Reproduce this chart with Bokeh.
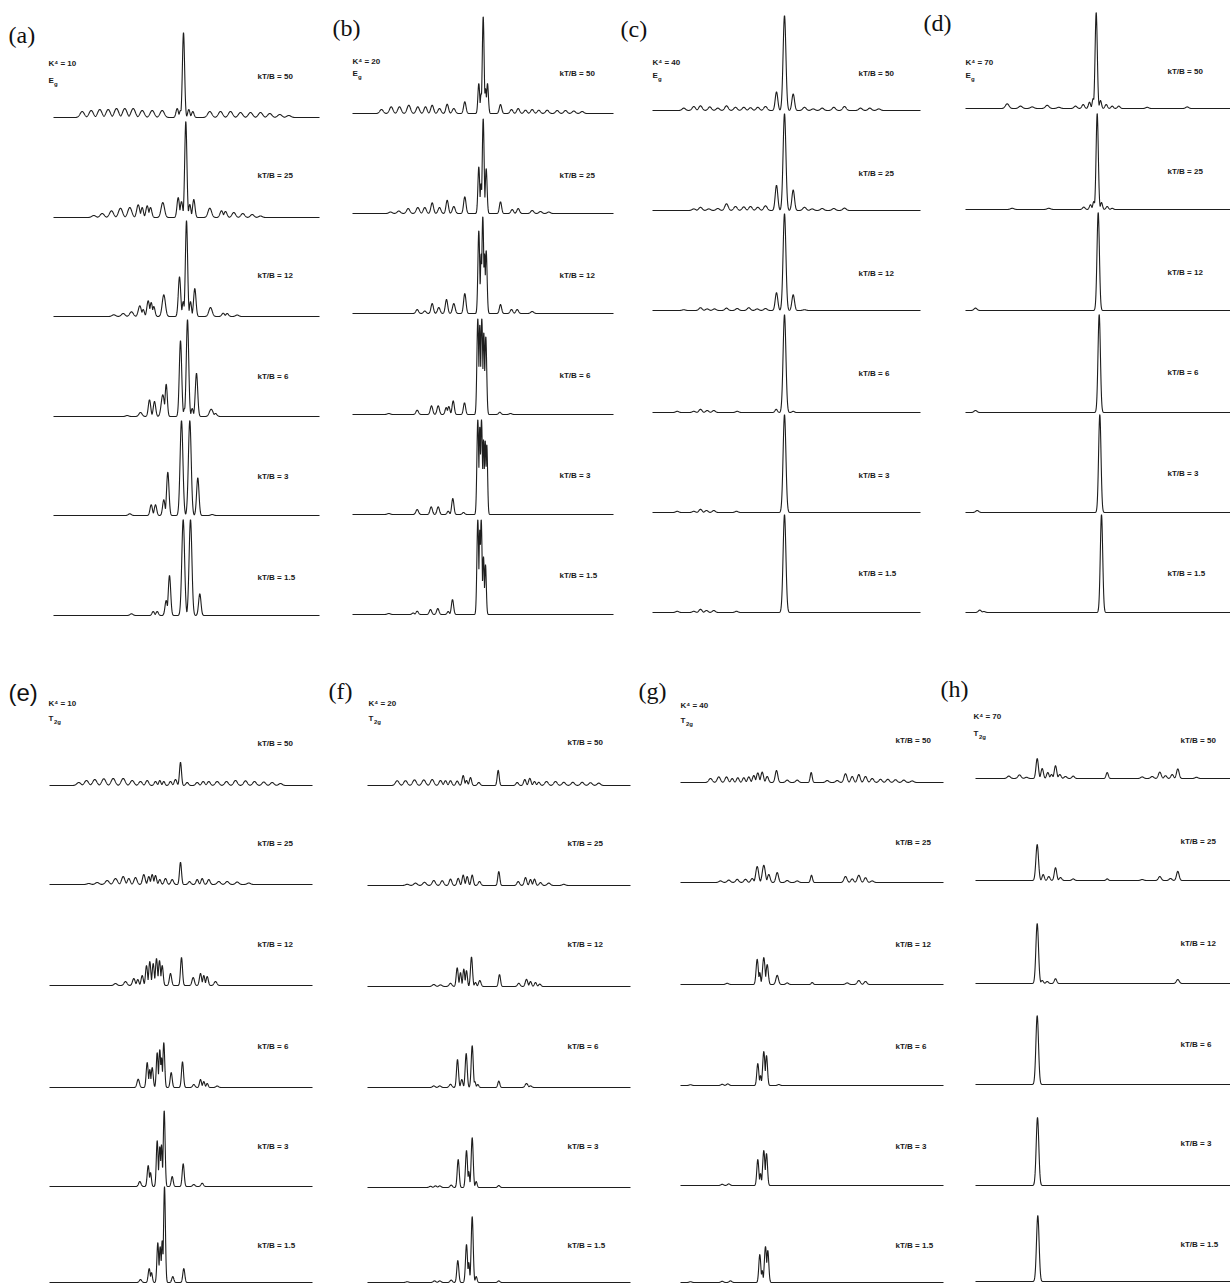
import numpy as np
from bokeh.plotting import figure
from bokeh.models import Range1d, Label
from bokeh.embed import file_html
from bokeh.resources import INLINE

# ---------------- data: peaks (energy position, intensity, width) ----------------
TEMPS = ["50", "25", "12", "6", "3", "1.5"]
LETTERS = ["(a)", "(b)", "(c)", "(d)", "(e)", "(f)", "(g)", "(h)"]
K4_VALUES = [10, 20, 40, 70, 10, 20, 40, 70]
SYMMETRY = [("E", "g")] * 4 + [("T", "2g")] * 4

# (a) K4=10, Eg
A50 = [(28.7,6,2.1),(37.7,7,2.1),(46.3,8,2.1),(54.7,8,2.1),(63,9,2.1),(71.3,9,2.1),(79.7,9,2.1),(88.7,7,2.1),(98.7,7,2.1),(108.7,7,2.1),(123.7,9,1.2),(127,7,1.1),(130,85,1.1),(135.3,8,1.1),(139.3,6,1.2),(156.3,6,2.1),(167,6,2.1),(177,6,2.1),(187,5,2.1),(197,5,2.1),(207,5,2.1),(216.3,4,2.1),(226.3,3,2.1),(235.3,2,2.1)]
A25 = [(40.3,2,2.0),(48.7,4,2.0),(58,6.7,2.0),(67,9.3,2.0),(76.3,10,2.0),(84.7,12.7,1.5),(88.7,10,1.2),(93.7,11.7,1.3),(97,10,1.3),(109.3,15,1.7),(124.7,20,1.2),(128,16,1.2),(132.3,96,1.1),(136.3,13,1.1),(140.3,18,1.2),(156.3,9.3,1.8),(168,6.7,1.5),(172,6,1.5),(180.3,5,1.8),(189.3,4,1.8),(198.7,3,1.8),(207,1.5,1.8)]
A12 = [(60.3,1.7,1.8),(69.7,3,1.8),(78,4.7,1.8),(86.3,10.7,1.5),(89.7,7,1.2),(94.7,15.7,1.3),(97.7,14,1.2),(100.3,10,1.2),(110.3,21.7,1.6),(126,39.7,1.2),(129.7,15,1.0),(133,96,1.1),(137,15,1.0),(141.3,28,1.2),(157,9,1.7),(169.7,3.3,1.4),(173.7,3,1.4),(183.7,1.5,1.6)]
A6 = [(73.7,1,1.5),(87,4,1.6),(96,16.7,1.2),(101,15,1.2),(109.3,21.7,1.6),(112.7,32.3,1.1),(127,76,1.2),(131,8,1.0),(134,97,1.2),(138.7,8,1.0),(143,43.3,1.2),(157.7,7.3,1.8),(162,3,1.5)]
A3 = [(76.3,1.7,1.5),(97.7,10.7,1.2),(102,10.7,1.2),(110.3,15.7,1.2),(114.3,43.3,1.2),(128,95,1.4),(136.3,95,1.4),(144.3,37.7,1.2),(158.7,1,1.5)]
A1_5 = [(78,1.7,1.5),(99.7,4,1.2),(103.7,4,1.2),(112.7,15,1.2),(116,40,1.2),(129.7,96,1.4),(137,96,1.4),(146.3,21.7,1.2)]

# (b) K4=20, Eg
B50 = [(29,4,1.7),(38.7,6.7,1.7),(47,6.7,1.7),(56.3,8.3,1.7),(65.3,6.7,1.6),(73,6.7,1.5),(79.7,8.3,1.4),(87,5,1.5),(94.7,9.3,1.3),(101.3,5,1.5),(112.3,11.7,1.2),(126.3,30,0.9),(128.7,20,0.9),(130.7,97,0.9),(133,25,0.9),(135,30,0.9),(148,9,1.2),(159,4,1.4),(165.7,5,1.4),(173,3.3,1.5),(179.7,4,1.5),(186.3,3.3,1.5),(194.7,3.3,1.6),(204.7,3,1.6),(213,3,1.6),(221.3,2.5,1.6),(229.7,2,1.6)]
B25 = [(38,1.5,1.6),(46.3,2.5,1.6),(55.7,5,1.6),(65.3,6,1.6),(72.3,6,1.5),(79.7,10.7,1.3),(87,6,1.4),(94.7,13.3,1.2),(101.3,7,1.4),(112.3,16.7,1.2),(126.3,46.7,0.9),(128.5,30,0.8),(130.7,95,0.9),(133.7,45,0.9),(148,11.7,1.1),(159.7,4,1.3),(165.7,5,1.3),(179.7,3,1.5),(188,2,1.5),(196.3,1.5,1.5)]
B12 = [(64.7,4,1.3),(72.3,2.5,1.3),(79.7,10,1.2),(86.3,6,1.3),(94,14,1.2),(101.3,10,1.3),(112.3,20,1.2),(126.3,83,0.9),(128.7,60,0.8),(130.3,97,0.9),(132,60,0.8),(133.7,63,0.9),(148,9,1.1),(159,4,1.3),(164.7,4,1.3),(179.7,2,1.5)]
B6 = [(36.3,1,1.5),(64.7,4.3,1.3),(79,8.7,1.2),(85.7,8.7,1.2),(93.7,7,1.1),(96.3,8,1.1),(100.7,13.7,1.1),(112,11.7,1.1),(125.3,96,0.9),(127.3,90,0.8),(129.3,96,0.9),(131.3,82,0.8),(133.3,78,0.9),(147.3,2.3,1.2),(158,1,1.3)]
B3 = [(36.3,1,1.5),(64.7,5,1.3),(78.7,7.7,1.2),(85.7,7.7,1.2),(95.7,3.3,1.1),(100.3,16,1.1),(111,2,1.2),(125.3,95,0.9),(127.3,88,0.8),(129,95,0.9),(131,75,0.8),(132.7,74,0.8),(134.3,70,0.8)]
B1_5 = [(36.3,1,1.5),(60.7,1.5,1.2),(64.7,3.3,1.2),(78,5,1.2),(85.3,6,1.2),(95.7,3,1.1),(100,15,1.1),(125.3,95,0.9),(127.3,85,0.8),(128.7,95,0.9),(131,58,0.8),(133,50,0.8)]

# (c) K4=40, Eg
C50 = [(31.3,2.4,1.7),(41.3,4,1.7),(48,4.7,1.7),(57.3,3.6,1.7),(65.3,2.4,1.7),(74,4.7,1.7),(83,3.2,1.7),(91.3,3.2,1.7),(98,2.8,1.7),(105.3,3.2,1.7),(113,4,1.7),(124,18.6,1.3),(132,95,1.4),(140.7,16.6,1.3),(152,3.2,1.7),(160.7,1.6,1.7),(169.7,2.4,1.7),(181.3,3.2,1.7),(192,4,1.7),(208,2.4,1.7),(217.3,2.4,1.7),(226.3,1.6,1.7)]
C25 = [(41.3,1.6,1.7),(48,3.2,1.7),(56.3,1.6,1.7),(65.3,2,1.7),(74,6.7,1.7),(83,4,1.7),(91.3,3.6,1.7),(98,4,1.7),(105.3,3.2,1.7),(113,4.7,1.7),(124,25.3,1.3),(132,97,1.4),(140.7,20.5,1.3),(152,3.2,1.7),(159.7,1.6,1.7),(169.7,2,1.7),(181.3,2,1.7),(192,2.4,1.7)]
C12 = [(31.3,0.8,1.6),(48,2.8,1.6),(54.7,1.6,1.6),(62,1.6,1.6),(74,2.4,1.6),(84.7,2,1.6),(96.3,2.8,1.6),(104.7,1.6,1.6),(113,2,1.6),(124,17.8,1.3),(132,97,1.4),(140.7,15.8,1.3),(152,0.8,1.6)]
C6 = [(24.7,1.2,1.5),(41.3,1.2,1.5),(48,3.2,1.5),(54.7,2,1.5),(61.3,2,1.5),(84.7,1.2,1.5),(123.7,3.2,1.2),(132,98,1.4),(140.7,1.2,1.2)]
C3 = [(24.7,1.2,1.5),(41.3,1.2,1.5),(48,3.2,1.5),(54,2,1.5),(61.3,2,1.5),(84,1.2,1.5),(132,98,1.4)]
C1_5 = [(24.7,1.2,1.5),(41.3,1.2,1.5),(48,3.2,1.5),(54,2,1.5),(61.3,2,1.5),(84,1.2,1.5),(132,98,1.4)]

# (d) K4=70, Eg
D50 = [(41.7,4.7,1.8),(55,2.4,1.8),(66.7,1.6,1.8),(81.7,3.2,1.8),(93.3,1.2,1.8),(110,2.4,1.5),(117.7,4,1.3),(124,6.3,1.1),(127.7,10,1.0),(130.7,96,1.1),(135,8,1.0),(140.7,4,1.2),(146.7,2.4,1.2),(153.3,2.4,1.3),(181.7,1.2,1.5),(221.7,1.6,1.5)]
D25 = [(46.7,1.2,1.8),(83.3,1.2,1.8),(118.3,2.4,1.3),(125,4.7,1.1),(128.3,8,1.0),(131.7,96,1.1),(136,7,1.0),(141.7,3,1.2),(146.7,1.2,1.2)]
D12 = [(10,2.4,1.5),(132.7,98,1.2)]
D6 = [(10,2,1.5),(133.7,98,1.2)]
D3 = [(11.7,2,1.5),(134.3,98,1.2)]
D1_5 = [(14.3,2.4,1.5),(18.3,1,1.5),(136,98,1.2)]

# (e) K4=10, T2g
E50 = [(29.3,3,2.0),(37,5,2.0),(45.3,6,2.0),(54.3,6.7,2.0),(63.7,7,2.0),(73.7,7,2.0),(82.7,5,1.9),(91,4,1.7),(97.7,5,1.5),(106,4,1.3),(110.3,5,1.1),(114.3,4,1.1),(121,4,1.3),(126,6,1.3),(131,23.3,1.0),(137.7,3,1.3),(147.7,3,1.5),(153.7,4,1.5),(159.3,4,1.5),(167.7,4,1.8),(177,4,1.8),(186,5,1.8),(196,4.7,1.8),(205,4,1.8),(214.3,3.5,1.8),(222.7,3,1.8),(231,2,1.8)]
E25 = [(39.3,1,1.8),(47.7,2,1.8),(57.7,4,1.9),(66,6,1.9),(73.7,8,1.6),(79.3,6,1.4),(86,7,1.5),(94.3,10,1.3),(99.3,8,1.1),(102.7,10,1.1),(106,9,1.1),(110.3,5,1.1),(116,6,1.3),(122.7,5,1.3),(131,22.3,1.0),(140,3,1.3),(147.7,5,1.2),(152.7,6,1.2),(159.3,5,1.3),(169.3,3,1.7),(177.7,3,1.7),(187.7,2.5,1.7),(199.3,1.5,1.7)]
E12 = [(66,2,1.5),(76,4,1.5),(84.3,7,1.3),(88.3,6,1.1),(92.7,10,1.1),(97,20,1.0),(100.3,24,1.0),(103.7,22,1.0),(107,27,1.0),(110,25,1.0),(112.7,20,1.0),(121,12,1.1),(132,28,1.0),(143.7,8,1.2),(151,12,1.1),(154.3,10,1.0),(157.7,9,1.1),(166,4,1.4)]
E6 = [(88.7,8.3,1.2),(97.7,25,1.0),(100.3,18,0.9),(102.7,20,1.0),(107.7,35,0.9),(110.3,38,0.9),(112,30,0.8),(114.3,45,0.9),(121.7,15,1.0),(133,25.7,1.0),(144.3,3,1.2),(151,8,1.0),(154.3,6,1.0),(157.7,4,1.0),(167.7,1.5,1.3)]
E3 = [(90.3,5,1.2),(98.7,21,1.0),(101,14,0.9),(107.7,46,0.9),(110.3,40,0.9),(112,42,0.8),(114.7,76,0.9),(122.7,10,1.0),(133.7,22.7,1.0),(144.3,2,1.2),(152.7,3.3,1.2)]
E1_5 = [(91,3,1.2),(99.7,14,1.0),(102,10,0.9),(108.3,40,0.9),(110.7,36,0.9),(112.7,42,0.8),(115,96,0.9),(123.3,6,1.0),(134.3,14,1.0)]

# (f) K4=20, T2g
F50 = [(29.7,4.8,1.8),(38,4.8,1.8),(47,5.6,1.8),(56.3,5.6,1.8),(64.7,6,1.7),(73,5,1.5),(78,4.8,1.3),(83,4.8,1.3),(89.7,4.4,1.3),(95.7,10,1.1),(99,5,1.1),(103,8,1.1),(111.3,3,1.3),(130.7,15.2,1.0),(149.7,3,1.3),(157.3,6,1.2),(162.3,7.2,1.2),(167,4,1.2),(171.3,3.2,1.3),(179,4,1.7),(188,4,1.7),(196.3,3.2,1.7),(205.3,3.2,1.7),(214.7,3.2,1.7),(223,2.8,1.7),(231.3,2.4,1.7)]
F25 = [(39.7,1.2,1.7),(48,2.4,1.7),(57,3.2,1.7),(66.3,5,1.6),(74.7,4.8,1.5),(83,6.4,1.3),(90.7,7.2,1.2),(95.7,10.4,1.1),(99.7,9,1.1),(104.7,10.4,1.1),(112,4,1.3),(131.3,14,1.0),(150.7,4,1.3),(158,8,1.2),(163,6,1.1),(167,6.4,1.1),(173,3,1.3),(181.3,2.4,1.6),(196.3,1.2,1.6)]
F12 = [(66.3,2,1.5),(73,1.6,1.5),(83,3.2,1.4),(89.7,18.8,1.0),(93,14,0.9),(96.3,17.6,0.9),(99,16,0.9),(104,29.6,1.0),(108,4,1.0),(112.3,6,1.2),(132,12,1.0),(151.3,3.2,1.3),(159,7.2,1.2),(163,5,1.1),(168,4,1.1),(172.3,2.4,1.2)]
F6 = [(66.3,1.6,1.3),(72.3,1.6,1.3),(83,3.2,1.3),(90,28,1.0),(94.3,8,1.0),(98.7,34,1.0),(104.7,42,1.0),(107.3,6,0.9),(110.3,3,1.0),(131.3,6.4,1.0),(159,4,1.4),(163,1.6,1.3)]
F3 = [(63,1.2,1.3),(68,1.6,1.3),(72.3,1.6,1.3),(83.7,2.4,1.2),(90.7,28,1.0),(99,37,1.0),(101.3,16,0.8),(104.7,50,1.0),(108.7,6,0.9),(131.3,2,1.1)]
F1_5 = [(39.7,0.8,1.3),(67,1.6,1.3),(72.3,1.6,1.3),(83.7,2.4,1.2),(90.3,22,1.0),(99,38,1.0),(101.3,20,0.8),(104.7,66,1.0),(108.7,6,0.9),(131.3,1.6,1.1)]

# (g) K4=40, T2g
G50 = [(30,4,1.7),(38.3,5.6,1.6),(46,5.6,1.5),(51.7,4,1.3),(57.3,4.8,1.3),(63.3,4.8,1.3),(68.3,5.6,1.3),(73.3,7,1.3),(77.3,9.6,1.3),(81.7,10.4,1.3),(86.7,6,1.3),(96,12,1.3),(106.7,2.4,1.5),(116.7,2.4,1.5),(130.7,10,1.0),(146.7,2,1.5),(156.7,2,1.5),(165,8.8,1.5),(171.7,6,1.4),(178.3,8,1.4),(185,6,1.5),(191.7,4,1.6),(200,3.2,1.6),(207.3,3.2,1.6),(215,2.8,1.6),(223.3,2.4,1.6),(231.7,1.6,1.6)]
G25 = [(40,1.6,1.6),(48.3,2.4,1.6),(56.7,3.2,1.5),(65,3.2,1.5),(71.7,4,1.4),(76.7,16,1.4),(83.3,17.2,1.5),(88.3,8,1.3),(96.7,10,1.3),(106.7,2,1.5),(116.7,1.6,1.5),(131,7.2,1.0),(165,6,1.5),(171.7,3.6,1.4),(178.3,7.2,1.5),(185,4.8,1.4),(191.7,1.6,1.5)]
G12 = [(46.7,1.2,1.4),(76.7,25.2,1.1),(79.3,12,0.8),(83.3,27,1.2),(86.7,20,1.1),(96.7,9.2,1.3),(106.7,1.6,1.3),(131.7,2,1.0),(166.7,1.6,1.5),(178.3,4,1.5),(185,3,1.4)]
G6 = [(10,0.8,1.3),(41.7,1.2,1.3),(47.3,1.6,1.3),(77.3,22,1.0),(80,10,0.8),(83.3,34,1.1),(86,30,1.0),(98.3,1,1.2)]
G3 = [(41.7,1.2,1.3),(48.3,1.6,1.3),(77.3,26,1.0),(80,12,0.8),(83.3,35,1.1),(86,32,1.0)]
G1_5 = [(10,0.8,1.3),(41.7,1.2,1.3),(50,1.6,1.3),(79.3,28,1.0),(81.7,12,0.8),(85,36,1.1),(87.3,32,1.0)]

# (h) K4=70, T2g
H50 = [(33.3,2.4,1.6),(44,3.6,1.6),(51,1.2,1.5),(61.7,20,1.2),(66.7,10,1.2),(72.3,6,1.2),(76,4,1.2),(80,12.8,1.2),(84.3,4,1.3),(90,2,1.4),(97.7,2.4,1.3),(131.7,6,1.1),(166.7,1.6,1.5),(176.7,2,1.5),(184.3,6.4,1.4),(190,2.8,1.3),(196.7,4,1.3),(202.3,9.6,1.3),(221,1.2,1.5)]
H25 = [(61.7,36,1.3),(67.7,6,1.1),(73.3,4,1.2),(80,12.8,1.2),(85,3,1.3),(97.7,1.6,1.3),(131.7,1.6,1.1),(166.7,1,1.5),(184.3,4,1.4),(195,2,1.4),(202.3,9.2,1.3)]
H12 = [(61.7,60,1.3),(66.7,3,1.2),(71.7,2,1.2),(80,4.8,1.2),(202.3,4,1.4)]
H6 = [(61.7,69,1.3)]
H3 = [(62,68,1.3)]
H1_5 = [(62.3,66,1.3)]

SPECTRA = [
    [A50, A25, A12, A6, A3, A1_5],
    [B50, B25, B12, B6, B3, B1_5],
    [C50, C25, C12, C6, C3, C1_5],
    [D50, D25, D12, D6, D3, D1_5],
    [E50, E25, E12, E6, E3, E1_5],
    [F50, F25, F12, F6, F3, F1_5],
    [G50, G25, G12, G6, G3, G1_5],
    [H50, H25, H12, H6, H3, H1_5],
]

# ---------------- layout (page positions) ----------------
W, H = 1230, 1285
GEOM = [
    dict(x0=53, span=266, base=[117, 217, 316, 416, 515, 615], letter=(8, 34), head=(48, 63, 17), lab_x=257, lab_y=[76, 175, 275, 376, 476, 577]),
    dict(x0=352, span=261, base=[113, 213, 313, 414, 514, 614], letter=(332, 27), head=(352, 61, 12), lab_x=559, lab_y=[73, 175, 275, 375, 475, 575]),
    dict(x0=652, span=268, base=[110, 210, 310, 412, 512, 612], letter=(620, 28), head=(652, 62, 13), lab_x=858, lab_y=[73, 173, 273, 373, 475, 573]),
    dict(x0=965, span=265, base=[108, 209, 310, 412, 512, 612], letter=(923, 22), head=(965, 62, 13), lab_x=1167, lab_y=[71, 171, 272, 372, 473, 573]),
    dict(x0=49, span=263, base=[785, 884, 985, 1087, 1186, 1282], letter=(8, 692), head=(48, 703, 15), lab_x=257, lab_y=[743, 843, 944, 1046, 1146, 1245]),
    dict(x0=367, span=263, base=[785, 885, 986, 1087, 1187, 1282], letter=(328, 690), head=(368, 703, 15), lab_x=567, lab_y=[742, 843, 944, 1046, 1146, 1245]),
    dict(x0=680, span=263, base=[782, 882, 984, 1085, 1185, 1282], letter=(638, 690), head=(680, 705, 15), lab_x=895, lab_y=[740, 842, 944, 1046, 1146, 1245]),
    dict(x0=975, span=255, base=[778, 880, 983, 1084, 1185, 1281], letter=(940, 688), head=(973, 716, 17), lab_x=1180, lab_y=[740, 841, 943, 1044, 1143, 1244]),
]

LINE_COLOR = "#1e1e1e"
SMALL_FONT = "Liberation Sans"
TEXT_COLOR = "#1a1a1a"


def profile(peaks, span):
    x = np.arange(0.0, span + 0.001, 0.2)
    y = np.zeros_like(x)
    for c, h, w in peaks:
        y = np.maximum(y, h * np.exp(-0.5 * ((x - c) / w) ** 2))
    return x, y


p = figure(width=W, height=H, x_range=Range1d(0, W), y_range=Range1d(H, 0),
           output_backend="svg", toolbar_location=None, min_border=0,
           x_axis_type=None, y_axis_type=None)
p.grid.visible = False
p.outline_line_color = None
p.background_fill_color = "white"
p.border_fill_color = "white"

for k, g in enumerate(GEOM):
    for i, peaks in enumerate(SPECTRA[k]):
        x, y = profile(peaks, g["span"])
        p.line(g["x0"] + x, g["base"][i] - y, line_color=LINE_COLOR, line_width=1.1)
        p.add_layout(Label(x=g["lab_x"], y=g["lab_y"][i], text=f"kT/B = {TEMPS[i]}",
                           text_baseline="middle", text_font=SMALL_FONT,
                           text_font_style="bold", text_font_size="8px", text_color=TEXT_COLOR))
    lx, ly = g["letter"]
    p.add_layout(Label(x=lx, y=ly, text=LETTERS[k], text_baseline="middle",
                       text_font="Liberation Sans" if k == 4 else "Liberation Serif",
                       text_font_size="24px", text_color="#111111"))
    hx, hy, dy = g["head"]
    p.add_layout(Label(x=hx, y=hy, text=f"K\u2074 = {K4_VALUES[k]}", text_baseline="middle",
                       text_font=SMALL_FONT, text_font_style="bold", text_font_size="8px",
                       text_color=TEXT_COLOR))
    main, sub = SYMMETRY[k]
    p.add_layout(Label(x=hx, y=hy + dy, text=main, text_baseline="middle",
                       text_font=SMALL_FONT, text_font_style="bold", text_font_size="8px",
                       text_color=TEXT_COLOR))
    p.add_layout(Label(x=hx + 5.5, y=hy + dy + 3, text=sub, text_baseline="middle",
                       text_font=SMALL_FONT, text_font_style="bold", text_font_size="6px",
                       text_color=TEXT_COLOR))

open("out.html", "w").write(file_html(p, INLINE))
